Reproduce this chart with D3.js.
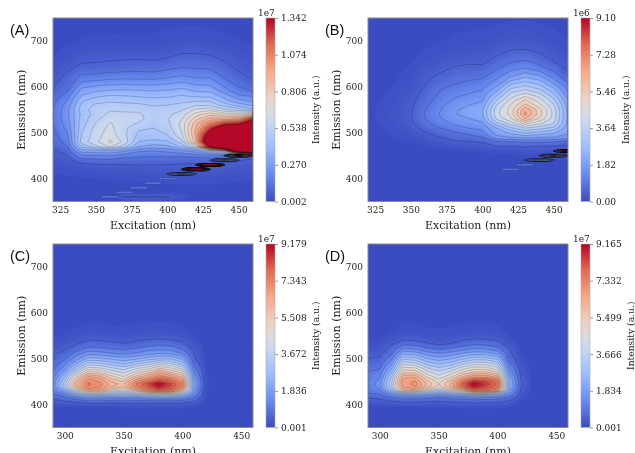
<!DOCTYPE html>
<html>
<head>
<meta charset="utf-8">
<style>
  html, body { margin: 0; padding: 0; background: #fff; }
  svg { display: block; filter: blur(0.4px); }
  text { font-family: "DejaVu Serif", serif; fill: #222; }
  .tag { font-family: "Liberation Sans", sans-serif; fill: #111; font-size: 14.5px; }
</style>
<script src="https://cdn.jsdelivr.net/npm/d3@7"></script>
</head>
<body>
<div id="chart"></div>
<script>
// excitation columns, emission rows of the scans (nm)
const excitationAB = [320, 330, 340, 350, 360, 370, 380, 390, 400, 410, 420, 430, 440, 450, 460];
const excitationCD = [290, 300, 310, 320, 330, 340, 350, 360, 370, 380, 390, 400, 410, 420, 430, 440, 450, 460];
const emissionAB = [350, 360, 370, 390, 400, 410, 420, 430, 440, 450, 460, 470, 480, 490, 500, 510, 520, 530, 540, 550, 560, 570, 580, 590, 600, 620, 640, 660, 680, 700, 750];
const emissionCD = [350, 380, 395, 400, 405, 410, 415, 420, 425, 430, 435, 440, 445, 450, 455, 460, 470, 480, 490, 500, 510, 520, 530, 540, 550, 560, 580, 620, 680, 750];

// intensity, one list per excitation column (1e7)
const intensityA = [
  [.002,.002,.003,.005,.008,.012,.018,.025,.035,.045,.055,.07,.09,.105,.115,.125,.13,.135,.135,.13,.125,.11,.095,.08,.065,.04,.025,.015,.01,.006,.003],
  [.003,.003,.004,.006,.01,.015,.022,.035,.05,.067,.095,.135,.165,.18,.2,.22,.235,.25,.255,.25,.235,.205,.17,.135,.105,.085,.055,.03,.018,.01,.004],
  [.004,.004,.005,.008,.012,.018,.028,.045,.105,.19,.3,.42,.5,.48,.47,.45,.44,.43,.42,.44,.42,.39,.345,.3,.255,.155,.09,.05,.03,.015,.005],
  [.005,.005,.006,.009,.013,.02,.032,.065,.115,.19,.31,.52,.585,.58,.57,.56,.54,.52,.5,.5,.485,.44,.39,.335,.28,.165,.09,.055,.032,.016,.006],
  [.005,.006,.007,.01,.014,.022,.035,.065,.12,.205,.32,.62,.69,.65,.635,.625,.61,.58,.555,.53,.5,.455,.41,.35,.295,.18,.1,.06,.033,.016,.006],
  [.006,.072,.008,.011,.016,.025,.04,.067,.105,.165,.28,.5,.58,.56,.55,.55,.56,.57,.555,.52,.49,.45,.405,.355,.3,.185,.105,.065,.035,.017,.006],
  [.006,.075,.008,.012,.017,.027,.042,.07,.105,.15,.21,.34,.4,.44,.46,.49,.53,.56,.55,.52,.485,.44,.395,.35,.295,.185,.11,.067,.036,.017,.006],
  [.006,.073,.008,.012,.018,.028,.043,.067,.1,.145,.2,.31,.38,.43,.45,.47,.49,.5,.5,.49,.465,.43,.385,.34,.29,.18,.105,.063,.035,.017,.006],
  [.006,.075,.009,.013,.019,.03,.045,.067,.1,.15,.22,.32,.39,.45,.48,.5,.52,.53,.52,.5,.47,.435,.39,.35,.3,.2,.125,.072,.04,.02,.006],
  [.006,.03,.009,.014,.021,.032,.05,.062,.095,.15,.25,.42,.51,.57,.6,.62,.62,.6,.57,.53,.49,.45,.41,.365,.32,.22,.14,.09,.053,.025,.007],
  [.006,.008,.009,.014,.02,.03,.045,.06,.09,.16,.3,.62,.85,.88,.9,.88,.85,.78,.7,.62,.53,.46,.39,.335,.29,.2,.134,.09,.055,.025,.007],
  [.006,.008,.009,.014,.02,.03,.045,.06,.1,.18,.5,1.4,1.7,1.6,1.4,1.22,1.05,.9,.78,.65,.52,.46,.385,.33,.28,.2,.13,.08,.05,.022,.006],
  [.006,.008,.009,.013,.019,.03,.042,.06,.08,.15,.6,1.9,2.2,2.2,2,1.6,1.2,.9,.72,.55,.44,.36,.31,.24,.2,.134,.095,.06,.035,.018,.005],
  [.005,.007,.008,.012,.017,.026,.038,.05,.07,.1,1.6,2.5,2.6,2.6,2.3,1.7,1.25,.95,.7,.5,.37,.29,.215,.16,.134,.09,.055,.04,.025,.014,.005],
  [.005,.006,.007,.01,.015,.023,.034,.045,.06,.08,1.8,2.6,2.7,2.7,2.7,2.3,1.6,1.25,.75,.42,.32,.25,.195,.135,.09,.06,.04,.025,.018,.01,.004]
];

// (1e6)
const intensityB = [
  [.01,.01,.01,.01,.01,.01,.01,.01,.01,.01,.02,.02,.02,.03,.03,.04,.05,.05,.05,.05,.05,.04,.04,.03,.03,.02,.02,.01,.01,.01,.01],
  [.01,.01,.01,.01,.01,.01,.01,.01,.01,.01,.03,.03,.04,.05,.06,.08,.09,.1,.11,.1,.09,.08,.07,.06,.05,.04,.03,.02,.02,.01,.01],
  [.01,.01,.01,.01,.01,.01,.01,.01,.01,.01,.02,.03,.05,.08,.1,.14,.17,.19,.2,.19,.17,.15,.13,.11,.09,.07,.05,.03,.02,.015,.01],
  [.01,.01,.01,.01,.01,.01,.01,.01,.01,.01,.02,.04,.08,.13,.2,.28,.36,.41,.42,.4,.36,.32,.28,.24,.2,.14,.09,.06,.04,.03,.01],
  [.01,.01,.01,.01,.01,.01,.01,.01,.01,.01,.03,.07,.15,.28,.42,.6,.8,.9,.95,.9,.82,.72,.63,.55,.48,.35,.22,.13,.08,.05,.015],
  [.01,.01,.01,.01,.01,.01,.01,.01,.01,.02,.05,.14,.27,.455,.62,.91,1.1,1.3,1.38,1.33,1.22,1.1,1,.93,.82,.55,.35,.2,.12,.07,.02],
  [.01,.01,.01,.01,.01,.01,.01,.01,.01,.02,.07,.2,.38,.62,.85,1.15,1.45,1.65,1.76,1.72,1.6,1.45,1.28,1.12,.98,.72,.49,.3,.17,.1,.02],
  [.01,.01,.01,.01,.01,.01,.01,.015,.02,.03,.08,.25,.43,.72,1.05,1.365,1.6,1.78,2.03,2,1.8,1.65,1.45,1.28,1.1,.82,.55,.33,.19,.11,.03],
  [.01,.01,.01,.01,.01,.01,.015,.02,.025,.03,.1,.3,.5,.91,1.25,1.5,1.75,2.05,2.22,2.2,2,1.78,1.6,1.43,1.25,.87,.55,.33,.2,.12,.03],
  [.01,.01,.01,.01,.01,.012,.015,.02,.03,.04,.12,.455,.85,1.7,2,2.275,3,3.7,3.95,3.9,3.64,3.185,2.73,2.275,1.85,1.3,.87,.53,.33,.18,.04],
  [.01,.01,.01,.01,.01,.012,.015,.02,.03,.05,.15,.455,.88,1.82,2.4,3.1,3.85,4.45,4.7,4.75,4.6,4.3,3.9,3.5,3,1.9,1.2,.75,.455,.25,.05],
  [.01,.01,.01,.01,.01,.015,.02,.025,.04,.07,.2,.5,1,2,2.8,3.64,4.7,5.9,6.5,6.3,5.6,5.1,4.5,3.85,3.3,2.3,1.4,.85,.48,.25,.06],
  [.01,.01,.01,.01,.01,.015,.02,.03,.05,.08,.22,.455,1,1.82,2.6,3.35,4.2,4.9,5.2,5.2,4.7,4.35,3.95,3.45,2.95,2.05,1.1,.65,.36,.18,.05],
  [.01,.01,.01,.01,.01,.015,.02,.03,.06,.1,.25,.43,.91,1.82,2.35,3.05,3.64,3.85,3.95,3.9,3.7,3.35,2.95,2.55,2.15,1.3,.73,.38,.22,.12,.04],
  [.01,.01,.01,.01,.01,.015,.02,.03,.07,.12,.25,.35,.7,1.65,1.9,2,2.1,2.15,2.15,2.1,2,1.85,1.6,1.365,1.15,.6,.35,.2,.12,.08,.03]
];

// (1e7)
const intensityC = [
  [.003,.012,.06,.2,.3,.42,.55,.7,.9,1.1,1.3,1.45,1.5,1.45,1.35,1.2,.95,.75,.6,.48,.42,.25,.15,.1,.06,.03,.02,.01,.005,.003],
  [.003,.012,.06,.22,.35,.55,.8,1.2,1.7,2.3,2.9,3.3,3.45,3.3,3.05,2.75,2.1,1.6,1.2,.85,.62,.43,.28,.17,.1,.06,.03,.015,.005,.003],
  [.003,.012,.06,.25,.45,.8,1.3,2.1,3.1,4.1,5.1,5.9,6.15,5.9,5.5,5,3.95,3,2.3,1.7,1.2,.78,.5,.3,.17,.1,.05,.02,.008,.003],
  [.004,.015,.08,.3,.6,1.1,1.9,3,4.6,5.9,6.9,7.3,7.4,7.25,6.95,6.55,5.3,4.25,3.3,2.45,1.78,1.15,.75,.46,.27,.15,.07,.03,.01,.003],
  [.004,.015,.08,.3,.6,1.1,1.8,2.9,4.5,5.8,6.6,6.95,7.05,6.85,6.6,6.2,5.05,4.1,3.25,2.4,1.7,1.1,.72,.46,.26,.14,.07,.03,.01,.003],
  [.004,.015,.08,.3,.55,1,1.7,2.7,3.7,4.7,5.5,6.05,6.15,5.95,5.6,5.25,4.45,3.7,2.95,2.2,1.5,1,.62,.38,.2,.12,.06,.02,.01,.003],
  [.004,.02,.1,.33,.55,.95,1.6,2.5,3.3,4.3,5,5.6,5.8,5.5,5,4.65,4.05,3.4,2.6,2.05,1.377,.918,.55,.3,.17,.1,.05,.02,.01,.003],
  [.004,.02,.1,.33,.55,1,1.7,2.7,3.9,5.1,6.3,7.1,7.3,6.85,6.3,5.7,4.75,3.9,3,2.2,1.5,1.05,.62,.42,.24,.13,.06,.03,.01,.003],
  [.004,.02,.1,.34,.58,1.05,2,3.2,4.8,6.6,7.5,8,8.2,7.6,7,6.4,5.3,4.35,3.4,2.5,1.75,1.25,.8,.5,.27,.15,.07,.03,.01,.003],
  [.004,.02,.1,.35,.6,1.1,2.2,3.4,5.2,7.2,8.3,8.9,9.179,8.35,7.8,7.2,6.2,4.9,3.8,2.75,1.9,1.377,.918,.55,.28,.17,.08,.03,.01,.004],
  [.004,.02,.1,.33,.6,1.1,2.2,3.4,5.2,7,7.9,8.2,8.3,7.9,7.4,6.8,5.6,4.6,3.65,2.7,1.85,1.3,.85,.49,.27,.15,.07,.03,.01,.004],
  [.004,.02,.1,.3,.55,1,1.8,2.8,4.1,5.3,6.4,7.1,7.2,6.9,6.4,5.9,4.9,3.9,3,2.2,1.45,.95,.6,.4,.17,.1,.05,.02,.01,.003],
  [.003,.015,.08,.2,.42,.62,.9,1.2,1.55,1.85,2.05,2.2,2.2,2.1,1.95,1.75,1.4,1.05,.75,.55,.459,.36,.2,.12,.08,.05,.03,.015,.005,.003],
  [.003,.01,.02,.03,.04,.05,.06,.07,.08,.09,.095,.1,.1,.1,.095,.09,.08,.07,.05,.04,.03,.025,.02,.015,.012,.01,.008,.005,.003,.002],
  [.002,.005,.01,.012,.014,.016,.018,.02,.022,.024,.025,.026,.026,.026,.025,.024,.02,.018,.016,.014,.012,.01,.01,.008,.008,.006,.005,.004,.003,.002],
  [.002,.004,.008,.01,.012,.014,.015,.016,.018,.02,.02,.02,.02,.02,.02,.02,.018,.016,.014,.012,.01,.01,.008,.008,.006,.006,.005,.004,.003,.002],
  [.002,.004,.008,.01,.012,.012,.014,.015,.016,.018,.018,.018,.018,.018,.018,.018,.016,.014,.012,.01,.01,.008,.008,.006,.006,.005,.004,.003,.002,.002],
  [.002,.004,.006,.008,.01,.01,.012,.012,.014,.015,.015,.015,.015,.015,.015,.015,.014,.012,.01,.01,.008,.008,.006,.006,.005,.005,.004,.003,.002,.002]
];

// (1e7)
const intensityD = [
  [.003,.012,.06,.15,.25,.35,.46,.72,.93,.95,1,1.05,1.08,1.05,1.02,.99,.94,.82,.65,.48,.33,.2,.12,.07,.05,.03,.02,.01,.005,.003],
  [.003,.012,.06,.2,.3,.42,.55,.8,1,1.25,1.45,1.55,1.6,1.55,1.45,1.3,1.1,.85,.65,.5,.4,.24,.15,.08,.05,.03,.02,.01,.005,.003],
  [.003,.012,.06,.25,.4,.55,.85,1.4,2,2.6,3.2,3.55,3.6,3.55,3.4,3.2,2.7,2.2,1.7,1.25,.88,.62,.46,.22,.12,.07,.04,.02,.008,.003],
  [.004,.015,.08,.3,.45,.75,1.2,2,3.5,5.3,6.2,6.55,6.6,6.6,6.5,6.3,5.4,4.7,3.9,3.05,2.29,1.55,.92,.46,.25,.14,.07,.03,.01,.003],
  [.004,.015,.08,.3,.45,.75,1.2,2.1,3.6,5.4,6.4,6.9,7.05,6.95,6.7,6.35,5.4,4.6,3.75,2.95,2.2,1.45,.88,.44,.24,.13,.07,.03,.01,.003],
  [.004,.015,.08,.28,.42,.7,1.1,1.9,3,4.1,5.1,5.8,5.9,5.7,5.4,5,4.35,3.7,3,2.35,1.7,1.1,.6,.33,.18,.1,.05,.02,.01,.003],
  [.004,.015,.08,.25,.38,.6,.95,1.6,2.5,3.5,4.4,4.9,5,4.85,4.6,4.3,3.85,3.25,2.65,2.05,1.5,.95,.46,.27,.15,.09,.05,.02,.01,.003],
  [.004,.015,.08,.28,.42,.7,1.1,1.9,3,4.2,5.2,5.9,6,5.75,5.35,4.95,4.3,3.6,2.9,2.25,1.65,1.05,.52,.32,.17,.1,.05,.02,.01,.003],
  [.004,.02,.1,.3,.48,.8,1.3,2.3,3.8,5.2,6.6,7.6,7.8,7.35,6.7,6,5.1,4.3,3.45,2.65,1.95,1.3,.75,.46,.23,.13,.06,.03,.01,.003],
  [.004,.02,.1,.33,.52,.85,1.5,2.7,4.9,7,8.2,8.9,9.165,8.5,7.6,6.8,5.6,4.75,3.85,3,2.2,1.5,.95,.55,.28,.15,.07,.03,.01,.004],
  [.004,.02,.1,.32,.5,.8,1.4,2.6,4.8,6.9,7.9,8.3,8.5,8.25,7.6,6.8,5.65,4.75,3.85,3,2.15,1.45,.9,.52,.27,.14,.07,.03,.01,.004],
  [.004,.02,.1,.3,.47,.75,1.3,2.4,3.9,6.2,7.2,7.6,7.7,7.55,7.1,6.3,5.1,4.2,3.4,2.6,1.85,1.2,.75,.46,.22,.12,.06,.02,.01,.003],
  [.003,.015,.08,.2,.35,.55,.8,1.2,1.6,2,2.3,2.5,2.5,2.45,2.3,2.1,1.75,1.35,1,.75,.6,.48,.25,.14,.07,.04,.02,.01,.005,.003],
  [.003,.01,.02,.03,.05,.1,.15,.2,.3,.38,.45,.5,.52,.5,.46,.42,.33,.25,.18,.12,.08,.05,.03,.02,.015,.01,.008,.005,.003,.002],
  [.002,.005,.01,.012,.014,.016,.018,.02,.022,.024,.026,.028,.03,.028,.026,.024,.02,.018,.016,.014,.012,.01,.01,.008,.008,.006,.005,.004,.003,.002],
  [.002,.004,.008,.01,.012,.014,.015,.016,.018,.02,.02,.02,.02,.02,.02,.02,.018,.016,.014,.012,.01,.01,.008,.008,.006,.006,.005,.004,.003,.002],
  [.002,.004,.008,.01,.012,.012,.014,.015,.016,.018,.018,.018,.018,.018,.018,.018,.016,.014,.012,.01,.01,.008,.008,.006,.006,.005,.004,.003,.002,.002],
  [.002,.004,.006,.008,.01,.01,.012,.012,.014,.015,.015,.015,.015,.015,.015,.015,.014,.012,.01,.01,.008,.008,.006,.006,.005,.005,.004,.003,.002,.002]
];

// Rayleigh scatter spots along emission = excitation
const spotWavelengthA = [360, 370, 380, 390, 400, 410, 420, 430, 440, 450];
const spotPeakA = [.075, .08, .09, .1, .14, .45, 2.6, 3, .5, 1.3];
const spotWavelengthB = [420, 430, 440, 450, 460];
const spotPeakB = [.5, 1, 2.6, 5.4, 12];

// colorbar ticks
const barTicksA = [0.002, 0.270, 0.538, 0.806, 1.074, 1.342];
const barTicksB = [0.00, 1.82, 3.64, 5.46, 7.28, 9.10];
const barTicksC = [0.001, 1.836, 3.672, 5.508, 7.343, 9.179];
const barTicksD = [0.001, 1.834, 3.666, 5.499, 7.332, 9.165];

const xTicksAB = [325, 350, 375, 400, 425, 450];
const xTicksCD = [300, 350, 400, 450];
const yTicks = [400, 500, 600, 700];

const colorStops = [0, .143, .286, .429, .5, .571, .714, .857, 1];
const colorValues = ['#3b4cc0', '#6788ee', '#9abbff', '#c9d7f0', '#dddcdc', '#edd1c2', '#f7a889', '#e26952', '#b40426'];

const width = 635;
const height = 453;
const plotW = 200;
const plotH = 183.5;

const svg = d3.select('#chart').append('svg').attr('width', width).attr('height', height);

function drawPanel(p) {
  const {id, left, top, excitation, emission, intensity} = p;
  const barTicks = p.barTicks;
  const vmin = barTicks[0];
  const vmax = barTicks[barTicks.length - 1];
  const g = svg.append('g').attr('transform', `translate(${left},${top})`);

  const xScale = d3.scaleLinear().domain([excitation[0], 460]).range([0, plotW]);
  const yScale = d3.scaleLinear().domain([350, 750]).range([plotH, 0]);
  const color = d3.scaleLinear().domain(colorStops.map(s => vmin + s * (vmax - vmin))).range(colorValues).clamp(true);

  // grid index -> wavelength, rows are not evenly spaced
  const colToEx = d3.scaleLinear().domain(d3.range(excitation.length)).range(excitation).clamp(true);
  const rowToEm = d3.scaleLinear().domain(d3.range(emission.length)).range(emission).clamp(true);
  const path = d3.geoPath(d3.geoTransform({
    point(c, r) {
      this.stream.point(xScale(colToEx(c - 0.5)), yScale(rowToEm(r - 0.5)));
    }
  }));

  const values = d3.merge(d3.transpose(intensity));
  const contours = d3.contours().size([excitation.length, emission.length]);

  g.append('clipPath').attr('id', `clip-${id}`).append('rect').attr('width', plotW).attr('height', plotH);
  const plot = g.append('g').attr('clip-path', `url(#clip-${id})`);
  plot.append('rect').attr('width', plotW).attr('height', plotH).attr('fill', color(vmin));

  // filled shading
  const step = (vmax - vmin) / 120;
  const bands = d3.range(1, 120).map(i => vmin + i * step);
  plot.append('g').selectAll('path').data(contours.thresholds(bands)(values)).enter().append('path')
    .attr('d', path).attr('fill', d => color(d.value + step / 2));

  // contour lines
  const levels = d3.range(1, 21).map(i => vmax * i / 20);
  plot.append('g').selectAll('path').data(contours.thresholds(levels)(values)).enter().append('path')
    .attr('d', path).attr('fill', 'none').attr('stroke', '#000').attr('stroke-width', 0.5).attr('stroke-opacity', 0.38);

  // scatter spots
  if (p.spotWavelength) {
    const spotShape = d3.line().x(d => xScale(d[0])).y(d => yScale(d[1])).curve(d3.curveLinearClosed);
    p.spotWavelength.forEach((w, i) => {
      const peak = p.spotPeak[i];
      const faint = peak / vmax < 0.15;
      levels.filter(l => l < peak).forEach(l => {
        const f = 1 - (l - levels[0]) / peak;
        const hw = (faint ? 7 : 10.5) * f;
        const hh = (faint ? 2 : 3) * f;
        plot.append('path')
          .attr('d', spotShape([[w - hw, w], [w - hw * 0.7, w + hh], [w + hw * 0.7, w + hh], [w + hw, w], [w + hw * 0.7, w - hh], [w - hw * 0.7, w - hh]]))
          .attr('fill', color(l + vmax / 20))
          .attr('stroke', '#000').attr('stroke-width', faint ? 0.4 : 0.7).attr('stroke-opacity', faint ? 0.3 : 0.7);
      });
    });
  }

  // axes
  const xAxis = d3.axisBottom(xScale).tickValues(p.xTicks).tickSizeInner(-2).tickSizeOuter(0).tickPadding(5);
  const gx = g.append('g').attr('transform', `translate(0,${plotH})`).call(xAxis);
  const yAxis = d3.axisLeft(yScale).tickValues(yTicks).tickSizeInner(-2).tickSizeOuter(0).tickPadding(5);
  const gy = g.append('g').call(yAxis);
  [gx, gy].forEach(a => {
    a.select('.domain').remove();
    a.selectAll('line').attr('stroke', '#333').attr('stroke-opacity', 0.6).attr('stroke-width', 0.7);
    a.selectAll('text').attr('font-size', 9).attr('font-family', '"DejaVu Serif", serif').attr('fill', '#222');
  });
  g.append('rect').attr('width', plotW).attr('height', plotH).attr('fill', 'none').attr('stroke', '#8c8c8c').attr('stroke-width', 1);

  g.append('text').attr('x', plotW / 2).attr('y', plotH + 27).attr('text-anchor', 'middle').attr('font-size', 11).text('Excitation (nm)');
  g.append('text').attr('transform', `translate(-28,${plotH / 2}) rotate(-90)`).attr('text-anchor', 'middle').attr('font-size', 11).text('Emission (nm)');
  g.append('text').attr('class', 'tag').attr('x', -43).attr('y', 16.5).text(`(${id})`);

  // colorbar
  const barX = 213;
  const barW = 9;
  const barScale = d3.scaleLinear().domain([vmin, vmax]).range([plotH, 0]);
  const bar = g.append('g').attr('transform', `translate(${barX},0)`);
  bar.selectAll('rect').data(d3.range(0, plotH - 1, 1.5)).enter().append('rect')
    .attr('y', d => d).attr('width', barW).attr('height', 2)
    .attr('fill', d => color(barScale.invert(d + 0.75)));
  const barAxis = d3.axisRight(barScale).tickValues(barTicks).tickFormat(d3.format(p.barFormat)).tickSize(3).tickPadding(3);
  const gb = bar.append('g').attr('transform', `translate(${barW},0)`).call(barAxis);
  gb.select('.domain').remove();
  gb.selectAll('line').attr('stroke', '#666').attr('stroke-width', 0.7);
  gb.selectAll('text').attr('font-size', 9).attr('font-family', '"DejaVu Serif", serif').attr('fill', '#222');
  bar.append('rect').attr('width', barW).attr('height', plotH).attr('fill', 'none').attr('stroke', '#aaa').attr('stroke-width', 0.6);
  bar.append('text').attr('x', -8).attr('y', -2).attr('font-size', 9).text(p.barExp);
  bar.append('text').attr('transform', `translate(${barW + p.barLabelGap},${plotH / 2}) rotate(-90)`).attr('text-anchor', 'middle').attr('font-size', 9.2).text('Intensity (a.u.)');
}

drawPanel({id: 'A', left: 53, top: 18, excitation: excitationAB, emission: emissionAB, intensity: intensityA, xTicks: xTicksAB, barTicks: barTicksA, barFormat: '.3f', barExp: '1e7', barLabelGap: 44, spotWavelength: spotWavelengthA, spotPeak: spotPeakA});
drawPanel({id: 'B', left: 368, top: 18, excitation: excitationAB, emission: emissionAB, intensity: intensityB, xTicks: xTicksAB, barTicks: barTicksB, barFormat: '.2f', barExp: '1e6', barLabelGap: 39, spotWavelength: spotWavelengthB, spotPeak: spotPeakB});
drawPanel({id: 'C', left: 53, top: 244, excitation: excitationCD, emission: emissionCD, intensity: intensityC, xTicks: xTicksCD, barTicks: barTicksC, barFormat: '.3f', barExp: '1e7', barLabelGap: 44});
drawPanel({id: 'D', left: 368, top: 244, excitation: excitationCD, emission: emissionCD, intensity: intensityD, xTicks: xTicksCD, barTicks: barTicksD, barFormat: '.3f', barExp: '1e7', barLabelGap: 44});
</script>
</body>
</html>
